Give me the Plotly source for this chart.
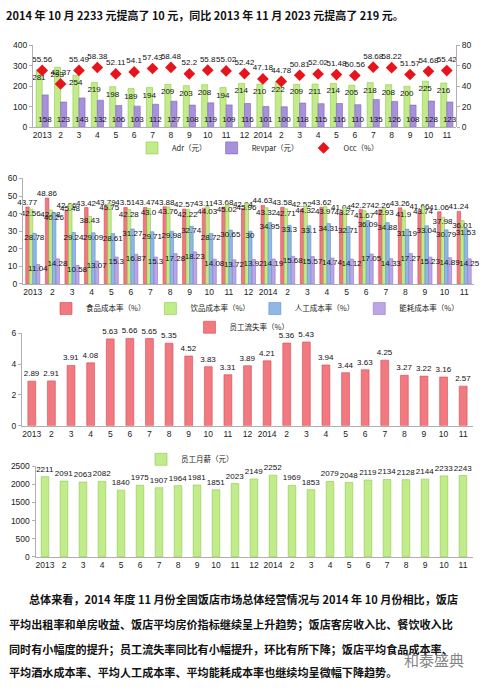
import plotly.graph_objects as go

months = ["2013","2","3","4","5","6","7","8","9","10","11","12","2014","2","3","4","5","6","7","8","9","10","11"]
xs = list(range(len(months)))

adr = [281,293,254,219,198,189,194,209,203,208,194,214,210,222,209,211,214,205,218,208,200,225,216]
revpar = [158,123,143,132,106,103,112,127,108,119,109,116,101,100,118,115,116,110,135,126,108,128,123]
occ = [55.56,42.37,55.49,58.38,52.11,54.1,57.43,58.48,52.2,55.8,55.02,52.42,47.18,44.78,50.81,52.02,51.48,50.56,58.68,58.22,51.57,54.68,55.42]

food = [43.77,48.86,42.06,43.42,43.79,43.51,43.47,43.88,42.57,43.11,43.68,42.84,44.63,43.58,42.52,43.62,41.04,42.27,42.26,43.26,41.66,41.06,41.24]
bev = [42.56,42.08,45.48,38.43,45.75,42.28,43.00,43.76,42.22,44.03,45.02,45.96,43.32,42.71,44.32,43.97,43.27,41.67,42.93,41.9,43.74,37.98,36.01]
labor = [28.78,40.26,29.24,29.09,28.61,31.27,29.71,29.98,32.74,28.72,30.65,30,34.95,33.3,33.1,34.31,32.71,36.09,34.88,31.19,33.04,30.79,31.53]
energy = [11.04,14.28,10.58,13.07,15.3,16.87,15.30,17.28,18.23,14.08,13.72,13.92,14.19,15.68,15.57,14.74,14.12,17.05,14.33,17.27,15.23,14.89,14.25]

turnover = [2.89,2.91,3.91,4.08,5.63,5.66,5.65,5.35,4.52,3.83,3.31,3.89,4.21,5.36,5.43,3.94,3.44,3.63,4.25,3.27,3.22,3.16,2.57]
salary = [2211,2091,2063,2082,1840,1975,1907,1964,1981,1851,2023,2149,2252,1969,1853,2079,2048,2119,2134,2128,2144,2233,2243]

title_text = "2014 年 10 月 2233 元提高了 10 元，同比 2013 年 11 月 2023 元提高了 219 元。"
para_lines = [
    "总体来看，2014 年度 11 月份全国饭店市场总体经营情况与 2014 年 10 月份相比，饭店",
    "平均出租率和单房收益、饭店平均房价指标继续呈上升趋势；饭店客房收入比、餐饮收入比",
    "同时有小幅度的提升；员工流失率同比有小幅提升，环比有所下降；饭店平均食品成本率、",
    "平均酒水成本率、平均人工成本率、平均能耗成本率也继续均呈微幅下降趋势。",
]

W, H = 482, 690
FONT = "Liberation Sans Narrow, Liberation Sans, Noto Sans CJK SC, sans-serif"
CJK = "Noto Sans CJK SC, sans-serif"

GREEN = "#c2ec8a"; GREEN_E = "#8fc849"
PURP = "#a890dc"; PURP_E = "#7e62c0"
RED = "#f07a80"; RED_E = "#d94850"
BLUE = "#90b8e6"; BLUE_E = "#5f8fcc"
PURP2 = "#bca6e6"; PURP2_E = "#9078cc"

def py(p):
    return 1 - p / H

def px_(p):
    return p / W

fig = go.Figure()
lab = dict(family=FONT, size=8, color="#111")

def bar(x, y, name, color, edge, xa, ya, width, offset, pos, legend, anchor=None):
    kw = dict(x=x, y=y, name=name, xaxis=xa, yaxis=ya, width=width, offset=offset,
              marker=dict(color=color, line=dict(color=edge, width=0.6)),
              text=[str(v) for v in y], textposition=pos, textfont=lab, textangle=0,
              constraintext="none", cliponaxis=False, legend=legend)
    if anchor:
        kw["insidetextanchor"] = anchor
    return go.Bar(**kw)

# Chart 1
fig.add_trace(bar(xs, adr, "Adr（元）", GREEN, GREEN_E, "x", "y", 0.33, -0.33, "inside", "legend", "end"))
fig.add_trace(bar(xs, revpar, "Revpar（元）", PURP, PURP_E, "x", "y", 0.33, 0.0, "inside", "legend", "start"))
fig.add_trace(go.Scatter(x=xs, y=occ, name="Occ（%）", xaxis="x", yaxis="y2", mode="markers+text",
                         marker=dict(symbol="diamond", size=9, color="#e8141c"),
                         text=[str(v) for v in occ], textposition="top center", textfont=lab,
                         cliponaxis=False, legend="legend"))

# Chart 2
fig.add_trace(bar(xs, food, "食品成本率（%）", RED, RED_E, "x2", "y3", 0.18, -0.36, "outside", "legend2"))
fig.add_trace(bar(xs, bev, "饮品成本率（%）", GREEN, GREEN_E, "x2", "y3", 0.18, -0.18, "inside", "legend2", "end"))
fig.add_trace(bar(xs, labor, "人工成本率（%）", BLUE, BLUE_E, "x2", "y3", 0.18, 0.0, "inside", "legend2", "end"))
fig.add_trace(bar(xs, energy, "能耗成本率（%）", PURP2, PURP2_E, "x2", "y3", 0.18, 0.18, "inside", "legend2", "end"))

# Chart 3
fig.add_trace(bar(xs, turnover, "员工流失率（%）", RED, RED_E, "x3", "y4", 0.4, -0.2, "outside", "legend3"))

# Chart 4
fig.add_trace(bar(xs, salary, "员工月薪（元）", GREEN, GREEN_E, "x4", "y5", 0.4, -0.2, "outside", "legend4"))

tickf = dict(family=FONT, size=8.5, color="#222")
axcol = "#b0b0b0"

def xax(domain, anchor):
    return dict(domain=domain, anchor=anchor, range=[-0.5, 22.5], tickmode="array", tickvals=xs,
                ticktext=months, tickfont=tickf, showline=True, linecolor=axcol, ticks="",
                showgrid=False, zeroline=False, fixedrange=True)

def yax(domain, anchor, rng, dtick, **extra):
    d = dict(domain=domain, anchor=anchor, range=rng, dtick=dtick, tickfont=tickf, showline=True,
             linecolor=axcol, ticks="outside", ticklen=3, tickcolor=axcol, showgrid=False,
             zeroline=False, fixedrange=True)
    d.update(extra)
    return d

leg = dict(orientation="h", font=dict(family=CJK, size=7.5, color="#222"), bgcolor="rgba(0,0,0,0)",
           xanchor="center", yanchor="middle", itemwidth=30, tracegroupgap=0)

fig.update_layout(
    width=W, height=H, margin=dict(l=0, r=0, t=0, b=0),
    paper_bgcolor="white", plot_bgcolor="white", barmode="overlay", showlegend=True,
    xaxis=xax([px_(33), px_(456)], "y"),
    yaxis=yax([py(124), py(41)], "x", [0, 400], 100),
    yaxis2=yax([py(124), py(41)], "free", [0, 80], 20, overlaying="y", side="right",
               position=px_(456)),
    xaxis2=xax([px_(23), px_(474)], "y3"),
    yaxis3=yax([py(283), py(176)], "x2", [0, 60], 10),
    xaxis3=xax([px_(22), px_(473)], "y4"),
    yaxis4=yax([py(427), py(333)], "x3", [0, 6], 2),
    xaxis4=xax([px_(35.5), px_(472.5)], "y5"),
    yaxis5=yax([py(560), py(468)], "x4", [0, 2500], 500),
    legend=dict(leg, x=px_(258), y=py(145)),
    legend2=dict(leg, x=px_(255), y=py(308)),
    legend3=dict(leg, x=px_(242), y=py(327)),
    legend4=dict(leg, x=px_(190), y=py(461)),
)

ann = [dict(text="<b>" + title_text + "</b>", x=px_(4), y=py(10), xref="paper", yref="paper",
            xanchor="left", yanchor="middle", showarrow=False,
            font=dict(family=CJK, size=11, color="#111"))]
line_y = [603, 628, 653, 677]
line_x = [27, 7, 7, 7]
for t, yy, xx in zip(para_lines, line_y, line_x):
    ann.append(dict(text="<b>" + t + "</b>", x=px_(xx), y=py(yy), xref="paper", yref="paper",
                    xanchor="left", yanchor="middle", showarrow=False,
                    font=dict(family=CJK, size=11.1, color="#111")))
ann.append(dict(text="和泰盛典", x=px_(466), y=py(664), xref="paper", yref="paper",
                xanchor="right", yanchor="middle", showarrow=False,
                font=dict(family=CJK, size=15, color="rgba(90,90,90,0.75)")))
fig.update_layout(annotations=ann)

fig.write_html("out.html", config={"displayModeBar": False},
               post_script="document.body.style.margin='0';document.body.style.overflow='hidden';")
